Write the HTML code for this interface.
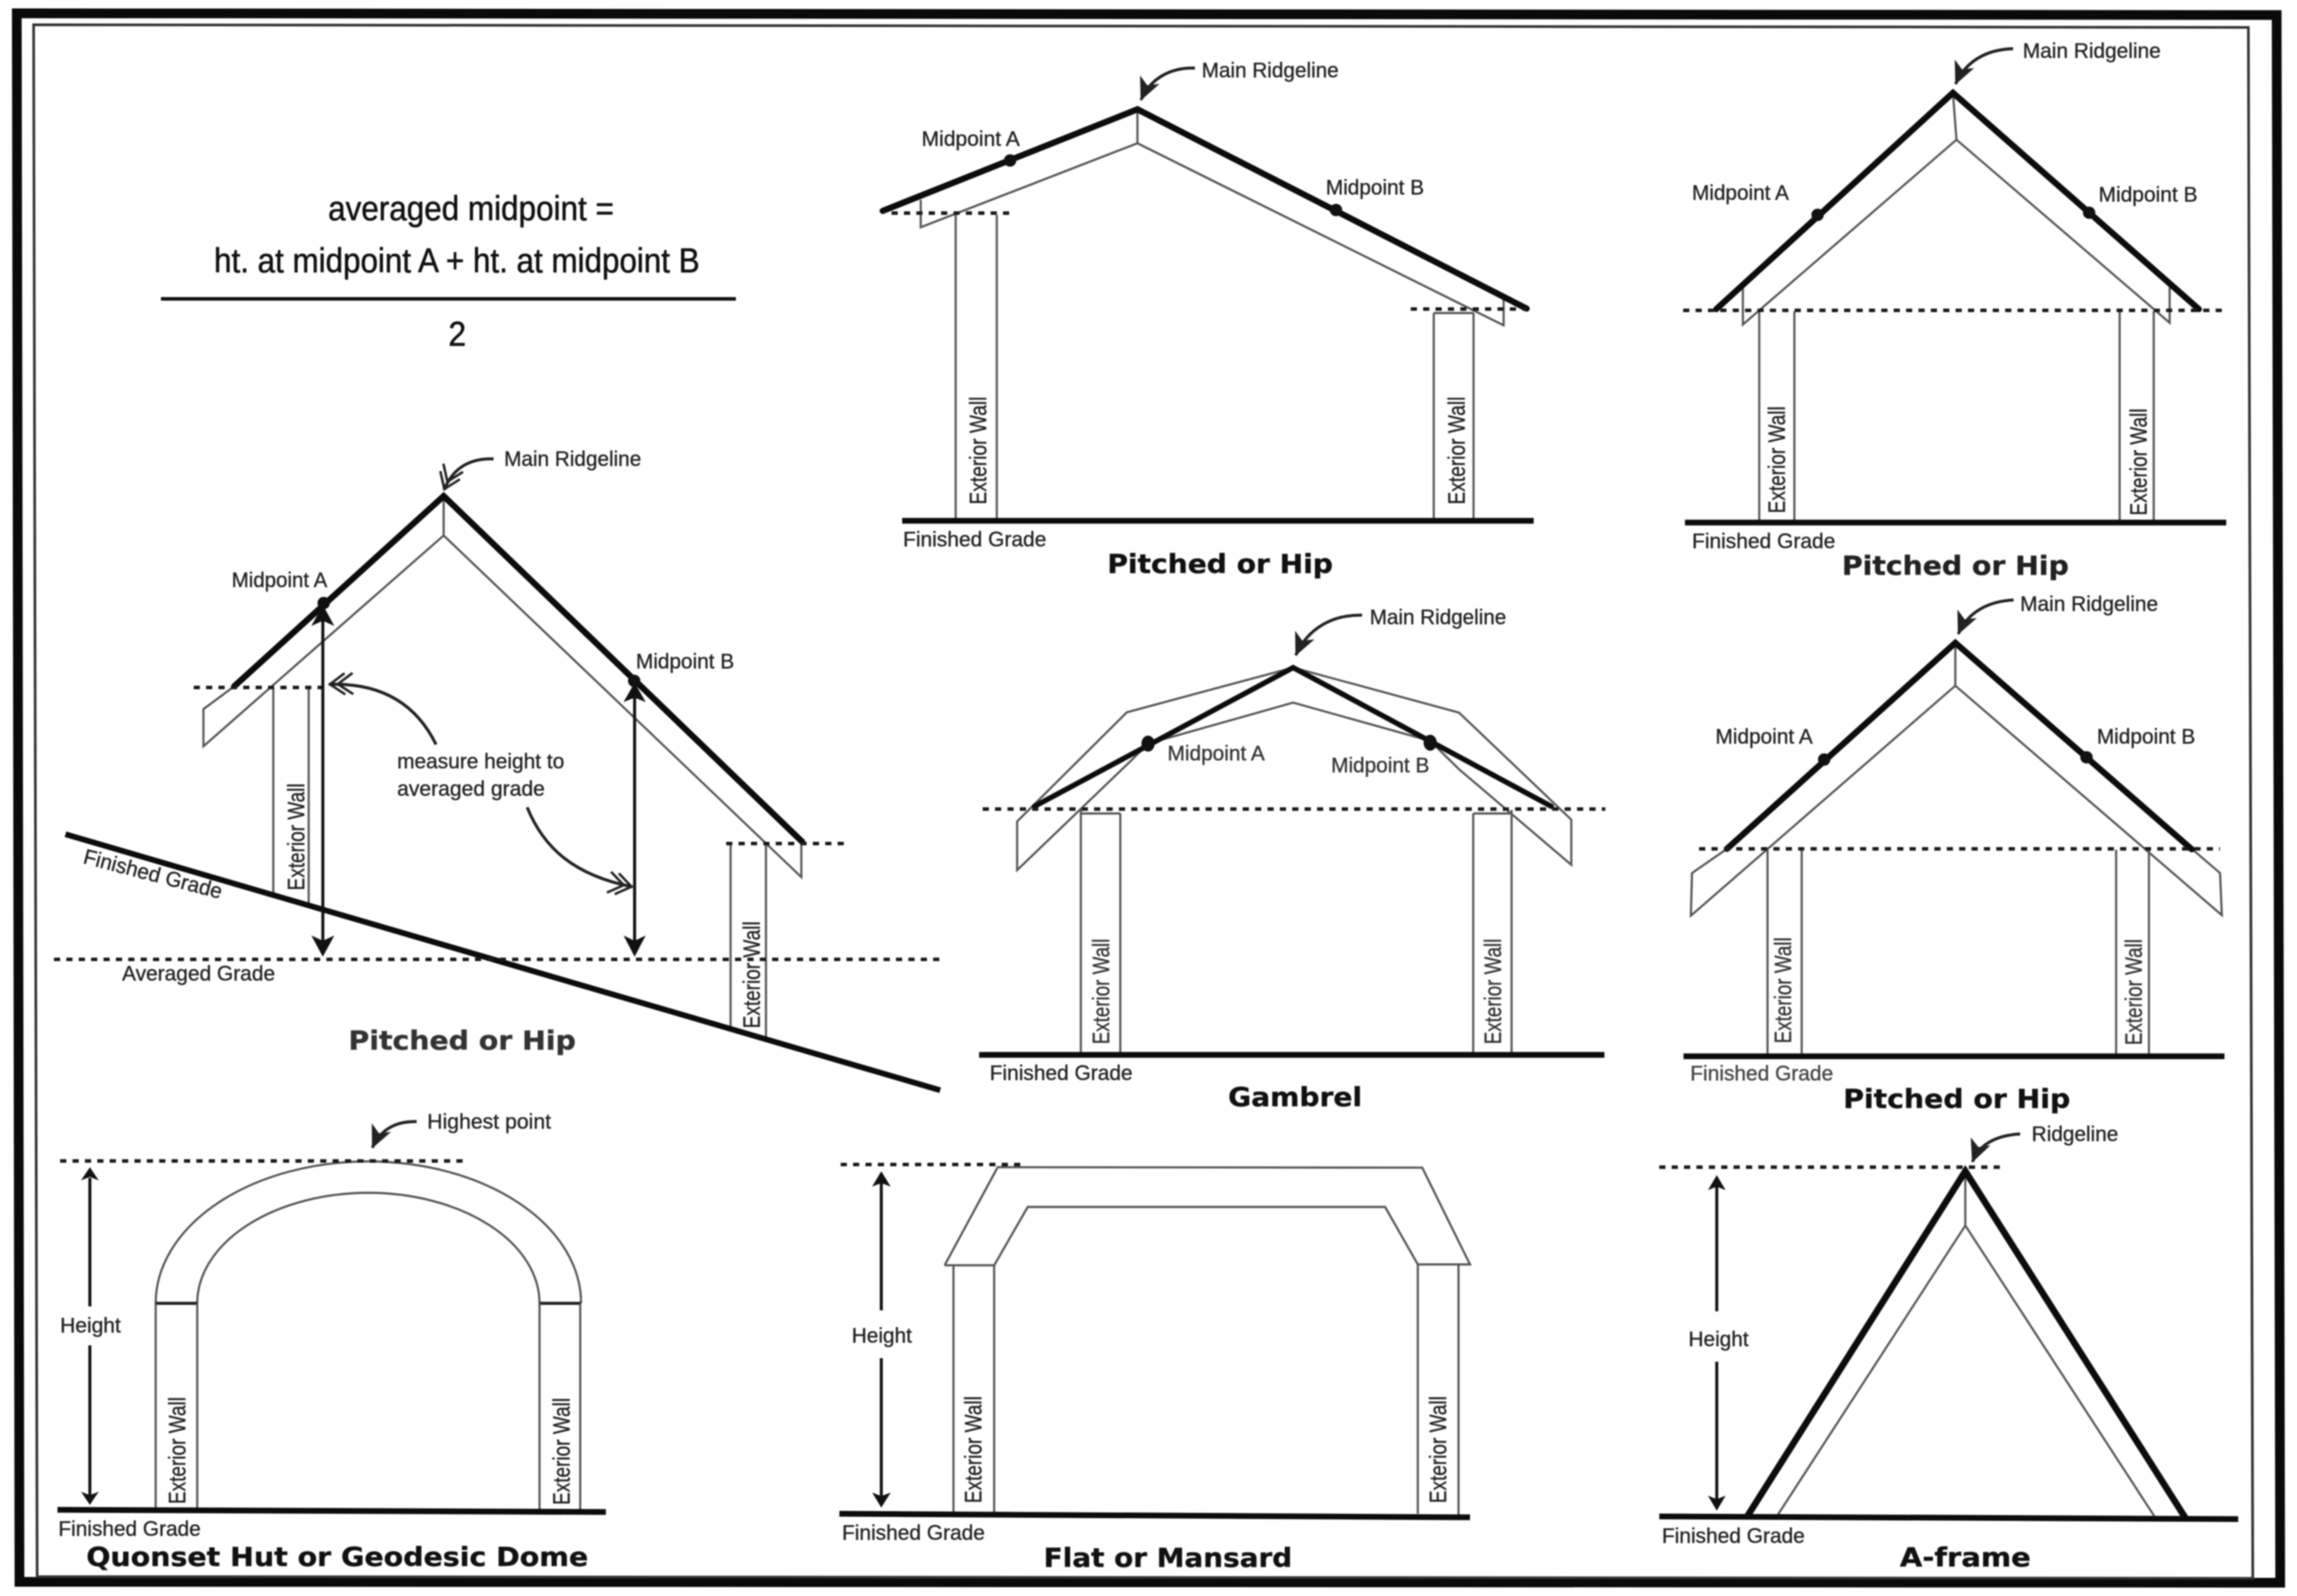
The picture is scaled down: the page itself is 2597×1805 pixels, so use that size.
<!DOCTYPE html>
<html><head><meta charset="utf-8"><title>Roof height diagrams</title>
<style>
html,body{margin:0;padding:0;background:#fff;width:2597px;height:1805px;overflow:hidden}
svg{display:block;filter:blur(.8px)}
text{font-family:"Liberation Sans",sans-serif;fill:#222;stroke:#222;stroke-width:.35px;font-size:24px}
.f{font-size:39px;fill:#111;stroke:#111;stroke-width:.6px}
.w{font-size:27px}
.h{font-family:"DejaVu Sans","Liberation Sans",sans-serif;font-weight:bold;font-size:29px;fill:#111;stroke:#111;stroke-width:.4px}
.t{fill:none;stroke:#555;stroke-width:2.4}
.k{fill:none;stroke:#0c0c0c;stroke-width:7;stroke-linecap:round;stroke-linejoin:miter}
.g{fill:none;stroke:#0c0c0c;stroke-width:6.5}
.d{fill:none;stroke:#1a1a1a;stroke-width:4;stroke-dasharray:7 7}
.a{fill:none;stroke:#222;stroke-width:3.4}
.v{fill:none;stroke:#111;stroke-width:3.4}
.p{fill:#111}
</style></head><body>
<svg width="2597" height="1805" viewBox="0 0 2597 1805" xmlns="http://www.w3.org/2000/svg">
<defs>
<marker id="s" viewBox="0 0 26 24" refX="25" refY="12" markerWidth="26" markerHeight="24" orient="auto" markerUnits="userSpaceOnUse"><path d="M26 12L0 0L7 12L0 24Z" fill="#222"/></marker>
<marker id="c" viewBox="0 0 32 26" refX="31" refY="13" markerWidth="32" markerHeight="26" orient="auto" markerUnits="userSpaceOnUse"><path d="M13 1L30 13L13 25M4 1L21 13L4 25" fill="none" stroke="#222" stroke-width="2.8"/></marker>
</defs>

<!-- frame -->
<path d="M19 15L2574 17L2578 1790L22 1789Z" fill="#fff" stroke="#0a0a0a" stroke-width="11"/>
<path d="M38 28L2542 31L2547 1785L42 1783Z" fill="#fff" stroke="#333" stroke-width="3"/>

<!-- formula -->
<text class="f" x="371" y="249" textLength="323" lengthAdjust="spacingAndGlyphs">averaged midpoint =</text>
<text class="f" x="242" y="308" textLength="549" lengthAdjust="spacingAndGlyphs">ht. at midpoint A + ht. at midpoint B</text>
<line x1="182" y1="338" x2="832" y2="338" stroke="#111" stroke-width="4"/>
<text class="f" x="507" y="391" textLength="20" lengthAdjust="spacingAndGlyphs">2</text>

<!-- left sloped pitched -->
<path class="t" d="M501.6 561V605.6L230 844V802L265 776M501.6 605.6L906 992V952"/>
<path class="k" d="M265 776L501.6 561L907 952"/>
<path class="t" d="M309 779V1011M349 779V1021M826 954V1162M866 954V1173"/>
<line class="d" x1="219" y1="777.5" x2="365" y2="777.5"/>
<line class="d" x1="821" y1="954" x2="957" y2="954"/>
<line class="g" x1="74" y1="943.5" x2="1063" y2="1233"/>
<line class="d" x1="61" y1="1085" x2="1063" y2="1085"/>
<circle class="p" cx="366" cy="682" r="7"/><circle class="p" cx="717" cy="770" r="7"/>
<line class="v" x1="365" y1="695" x2="365" y2="1070"/>
<line class="v" x1="717.5" y1="780" x2="717.5" y2="1070"/>
<path class="p" d="M365 684L378 708L365 702L352 708Z"/><path class="p" d="M717.5 772L730 794L717.5 789L705 794Z"/>
<path class="p" d="M365 1082L352 1058L365 1064L378 1058Z"/><path class="p" d="M717.5 1082L705 1058L717.5 1064L730 1058Z"/>
<path class="a" d="M493 842C470 795 430 772 372 774" marker-end="url(#c)"/>
<path class="a" d="M596 913C615 960 650 990 715 1003" marker-end="url(#c)"/>
<path class="a" d="M558 519C530 518 512 530 502 554" marker-end="url(#c)"/>
<text x="570" y="527" textLength="155" lengthAdjust="spacingAndGlyphs">Main Ridgeline</text>
<text x="262" y="664" textLength="108" lengthAdjust="spacingAndGlyphs">Midpoint A</text>
<text x="719" y="756" textLength="111" lengthAdjust="spacingAndGlyphs">Midpoint B</text>
<text x="449" y="869" textLength="189" lengthAdjust="spacingAndGlyphs">measure height to</text>
<text x="449" y="900" textLength="167" lengthAdjust="spacingAndGlyphs">averaged grade</text>
<text class="w" transform="translate(344,1007) rotate(-90)" textLength="121" lengthAdjust="spacingAndGlyphs">Exterior Wall</text>
<text class="w" transform="translate(859,1163) rotate(-90)" textLength="121" lengthAdjust="spacingAndGlyphs">Exterior Wall</text>
<text transform="translate(93,976) rotate(14.6)" textLength="161" lengthAdjust="spacingAndGlyphs">Finished Grade</text>
<text x="138" y="1109" textLength="173" lengthAdjust="spacingAndGlyphs">Averaged Grade</text>
<text class="h" x="394" y="1187" textLength="257" lengthAdjust="spacingAndGlyphs" style="fill:#333;stroke:#333">Pitched or Hip</text>

<!-- top middle -->
<path class="t" d="M1286 124V162L1041 257V226M1286 162L1700 368V339"/>
<path class="k" d="M998 238.5L1286 123.6L1726 349"/>
<path class="t" d="M1080.5 243V588M1127 243V588M1621 354V588M1666 354V588M1621 354H1666"/>
<line class="d" x1="1008" y1="241" x2="1147" y2="241"/>
<line class="d" x1="1595" y1="349.5" x2="1726" y2="349.5"/>
<line class="g" x1="1020" y1="589" x2="1734" y2="589"/>
<circle class="p" cx="1142" cy="181.5" r="7"/><circle class="p" cx="1510.5" cy="237.5" r="7"/>
<path class="a" d="M1351 77C1322 76 1300 90 1290 113" marker-end="url(#s)"/>
<text x="1358.6" y="87.6" textLength="155" lengthAdjust="spacingAndGlyphs">Main Ridgeline</text>
<text x="1042" y="165" textLength="111" lengthAdjust="spacingAndGlyphs">Midpoint A</text>
<text x="1499" y="220" textLength="111" lengthAdjust="spacingAndGlyphs">Midpoint B</text>
<text x="1021" y="618" textLength="162" lengthAdjust="spacingAndGlyphs">Finished Grade</text>
<text class="h" x="1252" y="648" textLength="255" lengthAdjust="spacingAndGlyphs">Pitched or Hip</text>
<text class="w" transform="translate(1115,570.6) rotate(-90)" textLength="122" lengthAdjust="spacingAndGlyphs">Exterior Wall</text>
<text class="w" transform="translate(1656,570.6) rotate(-90)" textLength="122" lengthAdjust="spacingAndGlyphs">Exterior Wall</text>

<!-- top right -->
<path class="t" d="M2208 105L2212 158L1970.5 367V322M2212 158L2453 365V319"/>
<path class="k" d="M1940.5 349.6L2208 105L2486 349.6"/>
<path class="t" d="M1989 352V590M2028.7 352V590M2396.5 352V590M2435 352V590"/>
<line class="d" x1="1903" y1="351" x2="2519" y2="351"/>
<line class="g" x1="1905" y1="591" x2="2517" y2="591"/>
<circle class="p" cx="2055" cy="243" r="7"/><circle class="p" cx="2362" cy="240.6" r="7"/>
<path class="a" d="M2276 55C2245 56 2222 70 2211 95" marker-end="url(#s)"/>
<text x="2287" y="65.6" textLength="156" lengthAdjust="spacingAndGlyphs">Main Ridgeline</text>
<text x="1913" y="226" textLength="109.5" lengthAdjust="spacingAndGlyphs">Midpoint A</text>
<text x="2372.6" y="228" textLength="112" lengthAdjust="spacingAndGlyphs">Midpoint B</text>
<text x="1913" y="620" textLength="162" lengthAdjust="spacingAndGlyphs">Finished Grade</text>
<text class="h" x="2082.5" y="650" textLength="256.5" lengthAdjust="spacingAndGlyphs" style="fill:#222;stroke:#222">Pitched or Hip</text>
<text class="w" transform="translate(2018,580.5) rotate(-90)" textLength="121" lengthAdjust="spacingAndGlyphs">Exterior Wall</text>
<text class="w" transform="translate(2427,583) rotate(-90)" textLength="121" lengthAdjust="spacingAndGlyphs">Exterior Wall</text>

<!-- gambrel -->
<path class="t" d="M1462 755L1274 805.6L1150 929V984L1279 860L1298 841L1462 794.6L1617 838L1649.6 870L1776.5 978V927L1649.6 806L1462 755"/>
<path class="k" style="stroke-width:6" d="M1169.5 912L1462 755L1754 912"/>
<path class="t" d="M1222 916V1192M1266.6 920V1192M1222 920H1266.6M1665.6 920V1192M1709 916V1192M1665.6 920H1709"/>
<line class="d" x1="1111" y1="915" x2="1815" y2="915"/>
<line class="g" x1="1107" y1="1193" x2="1814" y2="1193"/>
<ellipse class="p" cx="1298" cy="841" rx="7.5" ry="9"/><ellipse class="p" cx="1617" cy="840" rx="7.5" ry="9"/>
<path class="a" d="M1540 695.7C1505 695 1478 712 1465 741" marker-end="url(#s)"/>
<text x="1548.6" y="706" textLength="154.4" lengthAdjust="spacingAndGlyphs">Main Ridgeline</text>
<text x="1320" y="860" textLength="110" lengthAdjust="spacingAndGlyphs" style="fill:#333;stroke:#333">Midpoint A</text>
<text x="1505" y="873.6" textLength="111" lengthAdjust="spacingAndGlyphs" style="fill:#333;stroke:#333">Midpoint B</text>
<text x="1119" y="1221.6" textLength="161.5" lengthAdjust="spacingAndGlyphs">Finished Grade</text>
<text class="h" x="1388.5" y="1251" textLength="151.5" lengthAdjust="spacingAndGlyphs">Gambrel</text>
<text class="w" transform="translate(1254,1181) rotate(-90)" textLength="119.5" lengthAdjust="spacingAndGlyphs" style="fill:#333;stroke:#333">Exterior Wall</text>
<text class="w" transform="translate(1697,1181) rotate(-90)" textLength="119.5" lengthAdjust="spacingAndGlyphs" style="fill:#333;stroke:#333">Exterior Wall</text>

<!-- middle right -->
<path class="t" d="M2210.7 727V775.5L1911.7 1035.6L1913 987.4L1952.5 960M2210.7 775.5L2512 1035L2510 987.4L2478 960"/>
<path class="k" d="M1952.5 960L2210.7 727L2478 960.5"/>
<path class="t" d="M1998.4 961V1194M2037 961V1194M2392.5 961V1194M2429.6 961V1194"/>
<line class="d" x1="1921" y1="960" x2="2510" y2="960"/>
<line class="g" x1="1903.4" y1="1194.6" x2="2515" y2="1194.6"/>
<circle class="p" cx="2062.4" cy="859" r="7"/><circle class="p" cx="2359" cy="856.5" r="7"/>
<path class="a" d="M2276.6 678.6C2248 680 2225 692 2214 717" marker-end="url(#s)"/>
<text x="2284" y="691" textLength="156" lengthAdjust="spacingAndGlyphs">Main Ridgeline</text>
<text x="1939.5" y="841" textLength="110" lengthAdjust="spacingAndGlyphs">Midpoint A</text>
<text x="2370.7" y="841" textLength="111.3" lengthAdjust="spacingAndGlyphs">Midpoint B</text>
<text x="1911" y="1222" textLength="161.6" lengthAdjust="spacingAndGlyphs" style="fill:#444;stroke:#444">Finished Grade</text>
<text class="h" x="2084" y="1253" textLength="256.6" lengthAdjust="spacingAndGlyphs">Pitched or Hip</text>
<text class="w" transform="translate(2025,1180) rotate(-90)" textLength="120" lengthAdjust="spacingAndGlyphs" style="fill:#333;stroke:#333">Exterior Wall</text>
<text class="w" transform="translate(2421.7,1182) rotate(-90)" textLength="120" lengthAdjust="spacingAndGlyphs" style="fill:#333;stroke:#333">Exterior Wall</text>

<!-- quonset -->
<path class="t" d="M176 1474A240.5 160.5 0 0 1 657 1474M223 1474A193.5 125 0 0 1 610 1474"/>
<path d="M176 1474H223M610 1474H657" fill="none" stroke="#222" stroke-width="3.4"/>
<path class="t" d="M176 1474V1708M223 1474V1708M610 1474V1708M656 1474V1708"/>
<line class="d" x1="68" y1="1313" x2="523" y2="1313"/>
<line class="g" x1="65" y1="1707.5" x2="685" y2="1710"/>
<line class="v" x1="101.6" y1="1332" x2="101.6" y2="1477.5"/>
<line class="v" x1="101.6" y1="1521.5" x2="101.6" y2="1692"/>
<path class="p" d="M101.6 1320L111.6 1335L101.6 1331L91.6 1335Z"/>
<path class="p" d="M101.6 1702L91.6 1687L101.6 1691L111.6 1687Z"/>
<path class="a" d="M471 1268.5C447 1268 430 1278 421 1298" marker-end="url(#s)"/>
<text x="483" y="1276.6" textLength="140" lengthAdjust="spacingAndGlyphs">Highest point</text>
<text x="68" y="1507" textLength="68.6" lengthAdjust="spacingAndGlyphs">Height</text>
<text x="66" y="1737" textLength="161" lengthAdjust="spacingAndGlyphs">Finished Grade</text>
<text class="w" transform="translate(209.5,1701) rotate(-90)" textLength="121" lengthAdjust="spacingAndGlyphs">Exterior Wall</text>
<text class="w" transform="translate(644,1702) rotate(-90)" textLength="121" lengthAdjust="spacingAndGlyphs">Exterior Wall</text>
<text class="h" x="97.6" y="1771" textLength="567.4" lengthAdjust="spacingAndGlyphs">Quonset Hut or Geodesic Dome</text>

<!-- flat -->
<path class="t" d="M1068 1431L1128 1320L1608 1320.6L1662 1430H1603L1566 1365H1162L1124 1431H1068"/>
<path class="t" d="M1078 1431V1710M1124 1431V1710M1603 1430V1712M1649 1430V1714"/>
<line class="d" x1="950.5" y1="1317" x2="1156.6" y2="1317"/>
<line class="g" x1="949" y1="1712" x2="1662" y2="1716"/>
<line class="v" x1="996.4" y1="1336" x2="996.4" y2="1482"/>
<line class="v" x1="996.4" y1="1536" x2="996.4" y2="1695"/>
<path class="p" d="M996.4 1324.6L1007 1342L996.4 1338L986 1342Z"/>
<path class="p" d="M996.4 1705L986 1688L996.4 1692L1007 1688Z"/>
<text x="963" y="1518.6" textLength="68" lengthAdjust="spacingAndGlyphs">Height</text>
<text x="952" y="1741.5" textLength="161.5" lengthAdjust="spacingAndGlyphs">Finished Grade</text>
<text class="w" transform="translate(1109.5,1700) rotate(-90)" textLength="121" lengthAdjust="spacingAndGlyphs">Exterior Wall</text>
<text class="w" transform="translate(1635,1700) rotate(-90)" textLength="121" lengthAdjust="spacingAndGlyphs">Exterior Wall</text>
<text class="h" x="1180" y="1772" textLength="281" lengthAdjust="spacingAndGlyphs">Flat or Mansard</text>

<!-- a-frame -->
<path class="t" d="M2222 1330V1386L2009.5 1714M2222 1386L2436.5 1716"/>
<path class="k" style="stroke-linecap:butt;stroke-width:7.5" d="M1975.4 1715L2222 1324.6L2471 1717"/>
<line class="d" x1="1876" y1="1320" x2="2261.6" y2="1320"/>
<line class="g" x1="1876" y1="1715" x2="2530.5" y2="1718"/>
<line class="v" x1="1941" y1="1340" x2="1941" y2="1483"/>
<line class="v" x1="1941" y1="1540" x2="1941" y2="1698"/>
<path class="p" d="M1941 1329L1951 1346L1941 1342L1931 1346Z"/>
<path class="p" d="M1941 1708.5L1931 1691.5L1941 1695.5L1951 1691.5Z"/>
<path class="a" d="M2284 1282.4C2257 1284 2238 1294 2230 1314" marker-end="url(#s)"/>
<text x="2297" y="1290.5" textLength="98" lengthAdjust="spacingAndGlyphs">Ridgeline</text>
<text x="1909" y="1522.6" textLength="68" lengthAdjust="spacingAndGlyphs">Height</text>
<text x="1879" y="1745" textLength="161.5" lengthAdjust="spacingAndGlyphs">Finished Grade</text>
<text class="h" x="2148" y="1771.6" textLength="148" lengthAdjust="spacingAndGlyphs">A-frame</text>
</svg>
</body></html>
